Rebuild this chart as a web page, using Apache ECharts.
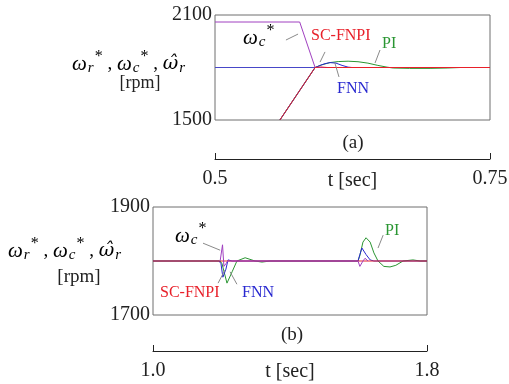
<!DOCTYPE html>
<html>
<head>
<meta charset="utf-8">
<script src="https://cdn.jsdelivr.net/npm/echarts@6/dist/echarts.min.js"></script>
<style>
  html, body { margin: 0; padding: 0; background: #fff; }
  #chart { width: 509px; height: 384px; }
</style>
</head>
<body>
<div id="chart"></div>
<script>
// (a) speed change, t in sec, speed in rpm
const refTop = [[0.5, 1800], [0.75, 1800]];
const wcTop = [[0.5, 2060], [0.577, 2060], [0.591, 1800], [0.60, 1800]];
const piTop = [[0.559, 1500], [0.591, 1800], [0.597, 1815], [0.6045, 1828], [0.612, 1834], [0.621, 1836],
  [0.630, 1833], [0.639, 1825], [0.648, 1812], [0.6564, 1802], [0.662, 1797], [0.677, 1795],
  [0.6955, 1795], [0.711, 1797], [0.723, 1800], [0.75, 1800]];
const fnnTop = [[0.559, 1500], [0.591, 1800], [0.5955, 1812], [0.600, 1822], [0.6045, 1828], [0.610, 1825],
  [0.6155, 1812], [0.621, 1802], [0.6245, 1800], [0.63, 1800]];
const scTop = [[0.559, 1500], [0.591, 1800], [0.596, 1803], [0.602, 1800], [0.75, 1800]];

// (b) load disturbance
const piBot = [[1.0, 1800], [1.196, 1800], [1.2015, 1795], [1.216, 1759], [1.231, 1780], [1.245, 1800],
  [1.269, 1806], [1.298, 1800], [1.318, 1798], [1.342, 1800], [1.5985, 1800], [1.604, 1810],
  [1.613, 1835], [1.622, 1843], [1.634, 1835], [1.645, 1815], [1.657, 1800], [1.674, 1790],
  [1.692, 1789], [1.709, 1792], [1.730, 1800], [1.759, 1802], [1.78, 1800], [1.8, 1800]];
const fnnBot = [[1.0, 1800], [1.193, 1800], [1.1985, 1795], [1.204, 1770], [1.213, 1785], [1.219, 1802],
  [1.231, 1800], [1.5985, 1800], [1.604, 1812], [1.610, 1824], [1.622, 1812], [1.634, 1802],
  [1.645, 1800], [1.8, 1800]];
const wcBot = [[1.196, 1800], [1.203, 1830], [1.207, 1790], [1.213, 1795], [1.218, 1800],
  [1.5985, 1800], [1.604, 1790], [1.607, 1787], [1.613, 1800], [1.619, 1805], [1.628, 1800]];
const scBot = [[1.0, 1800], [1.8, 1800]];

// pointer lines from labels to curves (data coords)
const pointersTop = [
  [[0.5645, 1957], [0.5755, 1991]],
  [[0.5955, 1831], [0.600, 1889]],
  [[0.650, 1900], [0.6455, 1826]],
  [[0.609, 1826], [0.6127, 1746]]
];
const pointersBot = [
  [[1.146, 1833], [1.196, 1820]],
  [[1.190, 1759], [1.210, 1783]],
  [[1.245, 1757], [1.225, 1780]],
  [[1.672, 1848], [1.657, 1824]]
];

const RED = '#e8202a', GREEN = '#2a9632', BLUE = '#2828d0', PURPLE = '#a040c0', REF = '#4848c8';
const SERIF = '"Liberation Serif", "DejaVu Serif", serif';

const chart = echarts.init(document.getElementById('chart'));

function line(data, color, xi, extra) {
  return Object.assign({
    type: 'line', xAxisIndex: xi, yAxisIndex: xi, data: data, showSymbol: false,
    lineStyle: { color: color, width: 1 }, animation: false, silent: true
  }, extra || {});
}
function pointers(list) {
  return {
    symbol: 'none', silent: true, animation: false,
    label: { show: false },
    lineStyle: { color: '#8a8a8a', width: 1, type: 'solid' },
    data: list.map(p => [{ coord: p[0] }, { coord: p[1] }])
  };
}

// sub/superscript styles for the omega symbols
function mathRich(color) {
  return {
    w: { fontFamily: SERIF, fontStyle: 'italic', fontSize: 21, lineHeight: 30, color: color },
    c: { fontFamily: SERIF, fontSize: 19, lineHeight: 30, color: color },
    h: { fontFamily: '"DejaVu Serif", serif', fontStyle: 'italic', fontSize: 19, lineHeight: 30, color: color },
    s: { fontFamily: SERIF, fontStyle: 'italic', fontSize: 15, lineHeight: 15, verticalAlign: 'bottom', padding: [0, 1, 3, 1], color: color },
    p: { fontFamily: SERIF, fontSize: 16, lineHeight: 16, verticalAlign: 'top', color: color }
  };
}
const yTitle = '{w|ω}{s|r}{p|*}{c| , }{w|ω}{s|c}{p|*}{c| , }{h|ω\u0302}{s|r}';

function txt(x, y, text, color, size, align) {
  return { type: 'text', x: x, y: y, style: { text: text, fill: color, fontFamily: SERIF, fontSize: size || 16, align: align || 'left', verticalAlign: 'middle' } };
}
function richTxt(x, y, text, rich, align) {
  return { type: 'text', x: x, y: y, style: { text: text, rich: rich, align: align || 'left', verticalAlign: 'middle' } };
}

const axisText = { fontFamily: SERIF, fontSize: 20, color: '#222' };

const option = {
  backgroundColor: '#fff',
  animation: false,
  grid: [
    { left: 215, top: 15, width: 275, height: 105, show: true, borderColor: '#6e6e6e', borderWidth: 1, outerBoundsMode: 'none' },
    { left: 153, top: 207, width: 274, height: 108, show: true, borderColor: '#6e6e6e', borderWidth: 1, outerBoundsMode: 'none' }
  ],
  xAxis: [
    {
      gridIndex: 0, type: 'value', min: 0.5, max: 0.75, interval: 0.25, position: 'bottom', offset: 39,
      axisLine: { show: true, onZero: false, lineStyle: { color: '#222', width: 1 } },
      axisTick: { show: true, inside: true, length: 6, lineStyle: { color: '#222' } },
      splitLine: { show: false },
      axisLabel: Object.assign({ margin: 10, formatter: v => String(v) }, axisText),
      name: 't [sec]', nameLocation: 'middle', nameGap: 12, nameMoveOverlap: false, nameTextStyle: axisText
    },
    {
      gridIndex: 1, type: 'value', min: 1.0, max: 1.8, position: 'bottom', offset: 36,
      axisLine: { show: true, onZero: false, lineStyle: { color: '#222', width: 1 } },
      axisTick: { show: true, inside: true, length: 6, customValues: [1.0, 1.8], lineStyle: { color: '#222' } },
      splitLine: { show: false },
      axisLabel: Object.assign({ margin: 10, customValues: [1.0, 1.8], formatter: v => v.toFixed(1) }, axisText),
      name: 't [sec]', nameLocation: 'middle', nameGap: 11, nameMoveOverlap: false, nameTextStyle: axisText
    }
  ],
  yAxis: [
    {
      gridIndex: 0, type: 'value', min: 1500, max: 2100, interval: 300,
      axisLine: { show: false }, axisTick: { show: false }, splitLine: { show: false },
      axisLabel: Object.assign({ margin: 3, formatter: v => (v === 1800 ? '' : String(v)) }, axisText)
    },
    {
      gridIndex: 1, type: 'value', min: 1700, max: 1900, interval: 100,
      axisLine: { show: false }, axisTick: { show: false }, splitLine: { show: false },
      axisLabel: Object.assign({ margin: 3, formatter: v => (v === 1800 ? '' : String(v)) }, axisText)
    }
  ],
  series: [
    line(refTop, REF, 0),
    line(piTop, GREEN, 0),
    line(fnnTop, BLUE, 0),
    line(wcTop, PURPLE, 0),
    line(scTop, RED, 0, { markLine: pointers(pointersTop) }),
    line(piBot, GREEN, 1),
    line(fnnBot, BLUE, 1),
    line(scBot, RED, 1, { markLine: pointers(pointersBot) }),
    line(wcBot, PURPLE, 1)
  ],
  graphic: [
    richTxt(72, 64, yTitle, mathRich('#222')),
    txt(140, 83, '[rpm]', '#222', 18, 'center'),
    richTxt(8, 251, yTitle, mathRich('#222')),
    txt(79, 277, '[rpm]', '#222', 19, 'center'),
    richTxt(243, 38, '{w|ω}{s|c}{p|*}', mathRich(PURPLE)),
    txt(311, 36, 'SC-FNPI', RED, 16),
    txt(382, 44, 'PI', GREEN, 16),
    txt(337, 89, 'FNN', BLUE, 16),
    txt(353, 143, '(a)', '#222', 19, 'center'),
    richTxt(175, 236, '{w|ω}{s|c}{p|*}', mathRich(PURPLE)),
    txt(160, 293, 'SC-FNPI', RED, 16),
    txt(242, 293, 'FNN', BLUE, 16),
    txt(385, 231, 'PI', GREEN, 16),
    txt(292, 335, '(b)', '#222', 19, 'center')
  ]
};

chart.setOption(option);
</script>
</body>
</html>
